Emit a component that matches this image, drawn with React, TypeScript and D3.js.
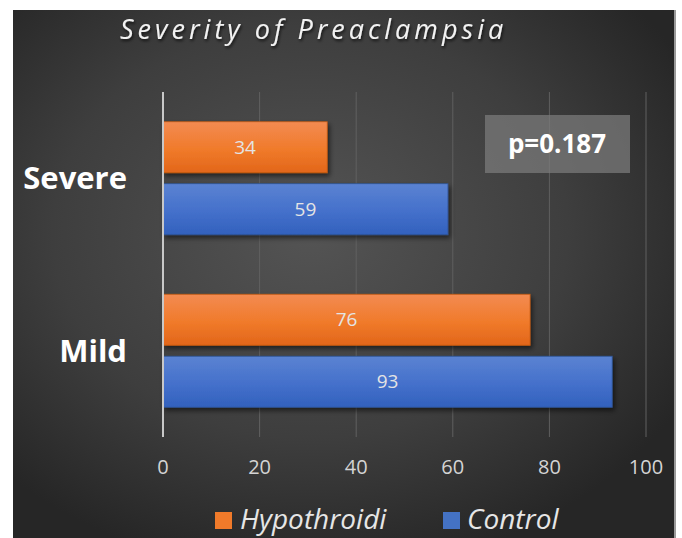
import React from "react";
import * as d3 from "d3";

const categories = ["Severe", "Mild"];
const seriesNames = ["Hypothroidi", "Control"];
const hypothroidiValues = [34, 76];
const controlValues = [59, 93];
const xTicks = [0, 20, 40, 60, 80, 100];
const titleText = "Severity of Preaclampsia";
const annotationText = "p=0.187";

const W = 682;
const H = 538;

export default function App() {
  const x = d3.scaleLinear().domain([0, 100]).range([163, 646]);
  const y = d3
    .scaleBand<string>()
    .domain(categories)
    .range([92, 437])
    .paddingInner(0.345)
    .paddingOuter(0.1725);
  const inner = d3
    .scaleBand<string>()
    .domain(seriesNames)
    .range([0, y.bandwidth()])
    .paddingInner(0.177);

  const series = [
    { name: seriesNames[0], values: hypothroidiValues, grad: "gOrange", stroke: "#c55a11" },
    { name: seriesNames[1], values: controlValues, grad: "gBlue", stroke: "#2f5597" },
  ];

  const font = "'Open Sans', 'Noto Sans', sans-serif";

  return (
    <svg
      width={W}
      height={H}
      style={{ position: "absolute", left: 0, top: 0 }}
      fontFamily={font}
    >
      <defs>
        <radialGradient id="bg" cx="45%" cy="42%" r="65%">
          <stop offset="0%" stopColor="#545454" />
          <stop offset="60%" stopColor="#3e3e3e" />
          <stop offset="100%" stopColor="#262626" />
        </radialGradient>
        <linearGradient id="gOrange" x1="0" y1="0" x2="0" y2="1">
          <stop offset="0%" stopColor="#f38b52" />
          <stop offset="55%" stopColor="#f07a2a" />
          <stop offset="100%" stopColor="#e2661a" />
        </linearGradient>
        <linearGradient id="gBlue" x1="0" y1="0" x2="0" y2="1">
          <stop offset="0%" stopColor="#5b83d2" />
          <stop offset="55%" stopColor="#4470cb" />
          <stop offset="100%" stopColor="#3261bd" />
        </linearGradient>
        <filter id="shadow" x="-10%" y="-20%" width="130%" height="160%">
          <feDropShadow dx="2" dy="3" stdDeviation="2.5" floodColor="#000" floodOpacity="0.55" />
        </filter>
        <filter id="tshadow" x="-10%" y="-30%" width="120%" height="170%">
          <feDropShadow dx="1" dy="2" stdDeviation="1.5" floodColor="#000" floodOpacity="0.7" />
        </filter>
      </defs>

      <rect x={0} y={0} width={W} height={H} fill="#ffffff" />
      <rect x={13} y={10} width={661} height={H - 10} fill="url(#bg)" />
      <line x1={675} x2={675} y1={10} y2={H} stroke="#9a9a9a" strokeWidth={2} />

      <text
        x={120}
        y={39}
        fill="#f2f2f2"
        fontSize={27}
        fontStyle="italic"
        letterSpacing={4}
        filter="url(#tshadow)"
      >
        {titleText}
      </text>

      {xTicks.slice(1).map((t) => (
        <line key={t} x1={x(t)} x2={x(t)} y1={92} y2={437} stroke="#606060" strokeWidth={1} />
      ))}

      {series.map((s) =>
        categories.map((c, i) => {
          const y0 = (y(c) ?? 0) + (inner(s.name) ?? 0);
          const bw = inner.bandwidth();
          const v = s.values[i];
          return (
            <g key={s.name + c}>
              <rect
                x={x(0)}
                y={y0}
                width={x(v) - x(0)}
                height={bw}
                fill={`url(#${s.grad})`}
                stroke={s.stroke}
                strokeWidth={0.8}
                filter="url(#shadow)"
              />
              <text
                x={(x(0) + x(v)) / 2}
                y={y0 + bw / 2}
                dy="0.35em"
                textAnchor="middle"
                fill="#e4e4e4"
                fontSize={19}
              >
                {v}
              </text>
            </g>
          );
        })
      )}

      <line x1={x(0)} x2={x(0)} y1={92} y2={437} stroke="#c8c8c8" strokeWidth={2} />

      {categories.map((c) => (
        <text
          key={c}
          x={127}
          y={(y(c) ?? 0) + y.bandwidth() / 2}
          dy="0.35em"
          textAnchor="end"
          fill="#ffffff"
          fontWeight="bold"
          fontSize={31}
        >
          {c}
        </text>
      ))}

      {xTicks.map((t) => (
        <text
          key={t}
          x={x(t)}
          y={467}
          dy="0.35em"
          textAnchor="middle"
          fill="#d4d4d4"
          fontSize={20}
        >
          {t}
        </text>
      ))}

      <rect x={485} y={115} width={145} height={58} fill="#7a7a7a" fillOpacity={0.75} />
      <text
        x={557}
        y={144}
        dy="0.35em"
        textAnchor="middle"
        fill="#ffffff"
        fontWeight="bold"
        fontSize={26}
      >
        {annotationText}
      </text>

      <g>
        <rect x={215} y={512} width={17} height={17} fill="#f07a2a" />
        <text x={240} y={529} fill="#e6e6e6" fontSize={28} fontStyle="italic">
          {seriesNames[0]}
        </text>
        <rect x={443} y={512} width={17} height={17} fill="#4472c4" />
        <text x={467} y={529} fill="#e6e6e6" fontSize={28} fontStyle="italic">
          {seriesNames[1]}
        </text>
      </g>
    </svg>
  );
}
